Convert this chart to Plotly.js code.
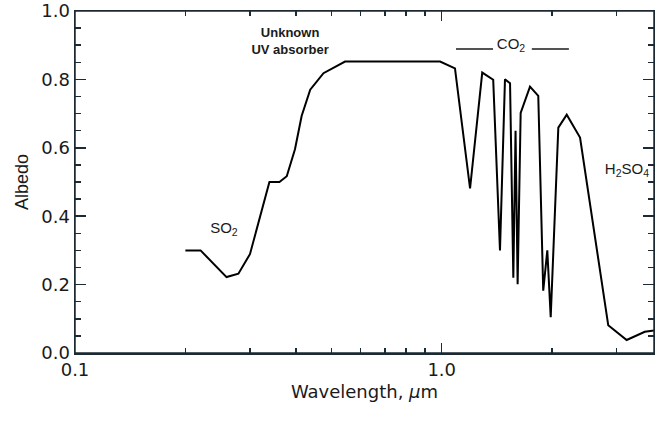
<!DOCTYPE html>
<html>
<head>
<meta charset="utf-8">
<script src="https://cdn.plot.ly/plotly-3.0.1.min.js"></script>
<style>html,body{margin:0;padding:0;background:#fff;}#chart{width:655px;height:421px;}</style>
</head>
<body>
<div id="chart"></div>
<script>
// Wavelength (micrometres) and albedo
const wavelength = [0.200, 0.220, 0.259, 0.279, 0.300, 0.339, 0.361, 0.378, 0.398, 0.415, 0.438, 0.476, 0.545, 0.990,
  1.087, 1.195, 1.290, 1.382, 1.442, 1.488, 1.536, 1.568, 1.590, 1.611, 1.642, 1.741, 1.834, 1.892, 1.941, 1.983,
  2.080, 2.193, 2.384, 2.846, 3.195, 3.580, 3.820];
const albedo = [0.30, 0.30, 0.222, 0.232, 0.289, 0.50, 0.50, 0.517, 0.596, 0.693, 0.77, 0.818, 0.852, 0.852,
  0.832, 0.481, 0.82, 0.799, 0.30, 0.80, 0.789, 0.22, 0.65, 0.201, 0.702, 0.779, 0.752, 0.182, 0.30, 0.105,
  0.659, 0.697, 0.63, 0.081, 0.038, 0.062, 0.066];

// Feature labels and where they sit (wavelength, albedo)
const labelText = ['<b>Unknown</b><br><b>UV absorber</b>', 'SO<sub>2</sub>', 'CO<sub>2</sub>', 'H<sub>2</sub>SO<sub>4</sub>'];
const labelWavelength = [0.386, 0.2548, 1.545, 3.20];
const labelAlbedo = [0.909, 0.363, 0.901, 0.535];
const labelSize = [13, 15, 15, 15];

const xTickVals = [0.1, 1.0];
const xTickText = ["0.1", "1.0"];
const xMinorVals = [0.2, 0.3, 0.4, 0.5, 0.6, 0.7, 0.8, 0.9, 2, 3];
const yTickVals = [0.0, 0.2, 0.4, 0.6, 0.8, 1.0];
const yTickText = ["0.0", "0.2", "0.4", "0.6", "0.8", "1.0"];

const axisColor = '#1c2a33';
const textColor = '#1a1a1a';
const tickFont = {family: 'DejaVu Sans', size: 18, color: textColor};

const traces = [
  {x: wavelength, y: albedo, type: 'scatter', mode: 'lines', line: {color: '#000', width: 2}},
  {x: labelWavelength, y: labelAlbedo, type: 'scatter', mode: 'text', text: labelText,
   textposition: 'middle center', textfont: {family: 'Liberation Sans', size: labelSize, color: textColor}}
];

const layout = {
  width: 655, height: 421,
  margin: {l: 75, r: 1, t: 11, b: 68},
  paper_bgcolor: '#fff', plot_bgcolor: '#fff',
  showlegend: false,
  xaxis: {type: 'log', range: [-1, 0.579], showgrid: false, zeroline: false,
    showline: true, linecolor: axisColor, linewidth: 1.5, mirror: 'ticks',
    ticks: 'inside', ticklen: 10, tickwidth: 1.5, tickcolor: axisColor,
    tickmode: 'array', tickvals: xTickVals, ticktext: xTickText, tickfont: tickFont,
    minor: {tickvals: xMinorVals, ticks: 'inside', ticklen: 5, tickwidth: 1.5, tickcolor: axisColor, showgrid: false},
    title: {text: 'Wavelength, <i>μ</i>m', font: {family: 'DejaVu Sans', size: 18, color: textColor}, standoff: 6}},
  yaxis: {range: [0, 1], showgrid: false, zeroline: false,
    showline: true, linecolor: axisColor, linewidth: 1.5, mirror: 'ticks',
    ticks: 'inside', ticklen: 11, tickwidth: 1.5, tickcolor: axisColor,
    tickmode: 'array', tickvals: yTickVals, ticktext: yTickText, tickfont: tickFont,
    minor: {dtick: 0.05, tick0: 0, ticks: 'inside', ticklen: 6, tickwidth: 1.5, tickcolor: axisColor, showgrid: false},
    title: {text: 'Albedo', font: {family: 'Liberation Sans', size: 18, color: textColor}, standoff: 8}},
  shapes: [
    {type: 'rect', xref: 'paper', yref: 'paper', x0: 0, x1: 1, y0: 0, y1: 1, layer: 'above', line: {color: axisColor, width: 1.5}},
    {type: 'line', xref: 'paper', yref: 'paper', x0: 0.658, x1: 0.722, y0: 0.889, y1: 0.889, line: {color: textColor, width: 1.5}},
    {type: 'line', xref: 'paper', yref: 'paper', x0: 0.789, x1: 0.853, y0: 0.889, y1: 0.889, line: {color: textColor, width: 1.5}}
  ]
};

Plotly.newPlot('chart', traces, layout, {staticPlot: true});
</script>
</body>
</html>
